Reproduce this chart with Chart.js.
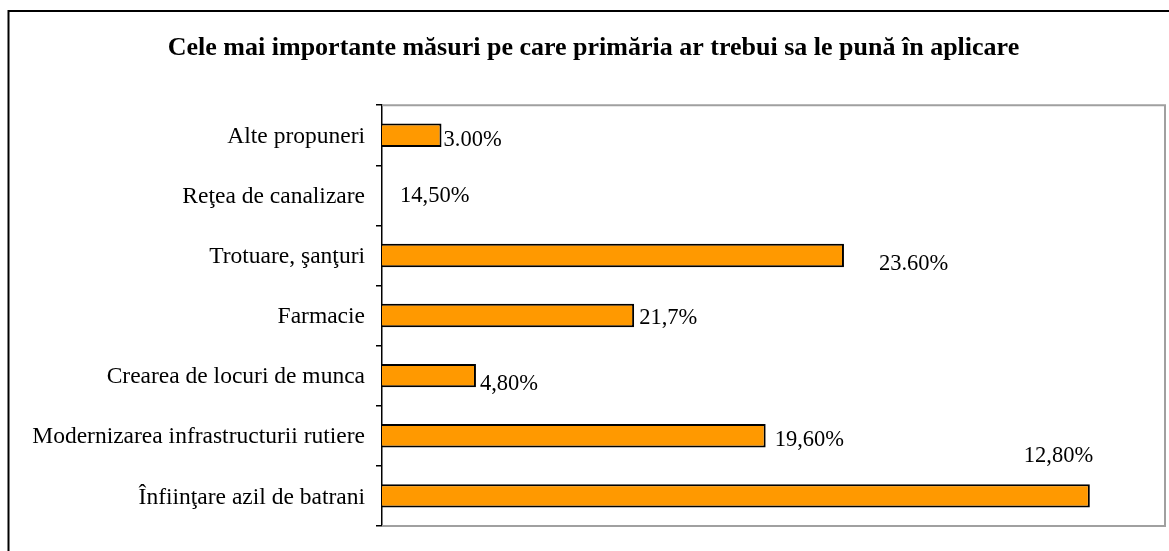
<!DOCTYPE html>
<html>
<head>
<meta charset="utf-8">
<script src="https://cdn.jsdelivr.net/npm/chart.js@4"></script>
<style>
body{margin:0;background:#fff;}
#wrap{width:1169px;height:551px;}
</style>
</head>
<body>
<div id="wrap"><canvas id="grafic" width="1169" height="551"></canvas></div>
<script>
const categorii = ["Alte propuneri", "Reţea de canalizare", "Trotuare, şanţuri", "Farmacie", "Crearea de locuri de munca", "Modernizarea infrastructurii rutiere", "Înfiinţare azil de batrani"];
const valori = [7.6, null, 59.0, 32.2, 12.0, 49.0, 90.4];
const etichete = ["3.00%", "14,50%", "23.60%", "21,7%", "4,80%", "19,60%", "12,80%"];

// unde stau etichetele fata de capatul barei
const deplasareX = [2, 18, 35, 5, 4, 9, -66];
const deplasareY = [5, 1, 9, 3, 8, 4, -40];

const chenar = {
  id: "chenar",
  beforeDraw(chart){
    const c = chart.ctx;
    c.save();
    c.fillStyle = "#fff";
    c.fillRect(0, 0, chart.width, chart.height);
    c.strokeStyle = "#000";
    c.lineWidth = 2;
    c.strokeRect(8.5, 11, 1300, 700);
    c.restore();
  },
  beforeDatasetsDraw(chart){
    const a = chart.chartArea;
    const c = chart.ctx;
    c.save();
    c.strokeStyle = "#a0a0a0";
    c.lineWidth = 2;
    c.beginPath();
    c.moveTo(a.left, a.top);
    c.lineTo(a.right, a.top);
    c.lineTo(a.right, a.bottom);
    c.lineTo(a.left, a.bottom);
    c.stroke();
    c.restore();
  }
};

const etichetePlugin = {
  id: "etichete",
  afterDatasetsDraw(chart){
    const c = chart.ctx;
    const xs = chart.scales.x;
    const ys = chart.scales.y;
    c.save();
    c.fillStyle = "#000";
    c.font = "22.5px 'Liberation Serif'";
    c.textBaseline = "middle";
    c.textAlign = "left";
    etichete.forEach((t, i) => {
      const x = xs.getPixelForValue(valori[i] ?? 0) + deplasareX[i];
      const y = ys.getPixelForValue(i) + deplasareY[i];
      c.fillText(t, x, y);
    });
    c.restore();
  }
};

new Chart(document.getElementById("grafic"), {
  type: "bar",
  data: {
    labels: categorii,
    datasets: [{
      data: valori,
      backgroundColor: "#FF9900",
      borderColor: "#000",
      borderWidth: 2,
      barPercentage: 0.39,
      categoryPercentage: 1
    }]
  },
  options: {
    indexAxis: "y",
    responsive: false,
    animation: false,
    layout: {padding: {left: 22, right: 4, top: 0, bottom: 25}},
    plugins: {
      legend: {display: false},
      tooltip: {enabled: false},
      title: {
        display: true,
        text: "Cele mai importante măsuri pe care primăria ar trebui sa le pună în aplicare",
        color: "#000",
        font: {family: "Liberation Serif", size: 26, weight: "bold", lineHeight: 1.2},
        padding: {top: 33, bottom: 41}
      }
    },
    scales: {
      x: {min: 0, max: 100, display: false},
      y: {
        grid: {drawOnChartArea: false, tickLength: 6, color: "#000", lineWidth: 1.5},
        border: {color: "#000", width: 1.5},
        ticks: {color: "#000", padding: 11, labelOffset: 1.5, font: {family: "Liberation Serif", size: 23.5}},
        afterFit(s){ s.width = 360; }
      }
    }
  },
  plugins: [chenar, etichetePlugin]
});
</script>
</body>
</html>
